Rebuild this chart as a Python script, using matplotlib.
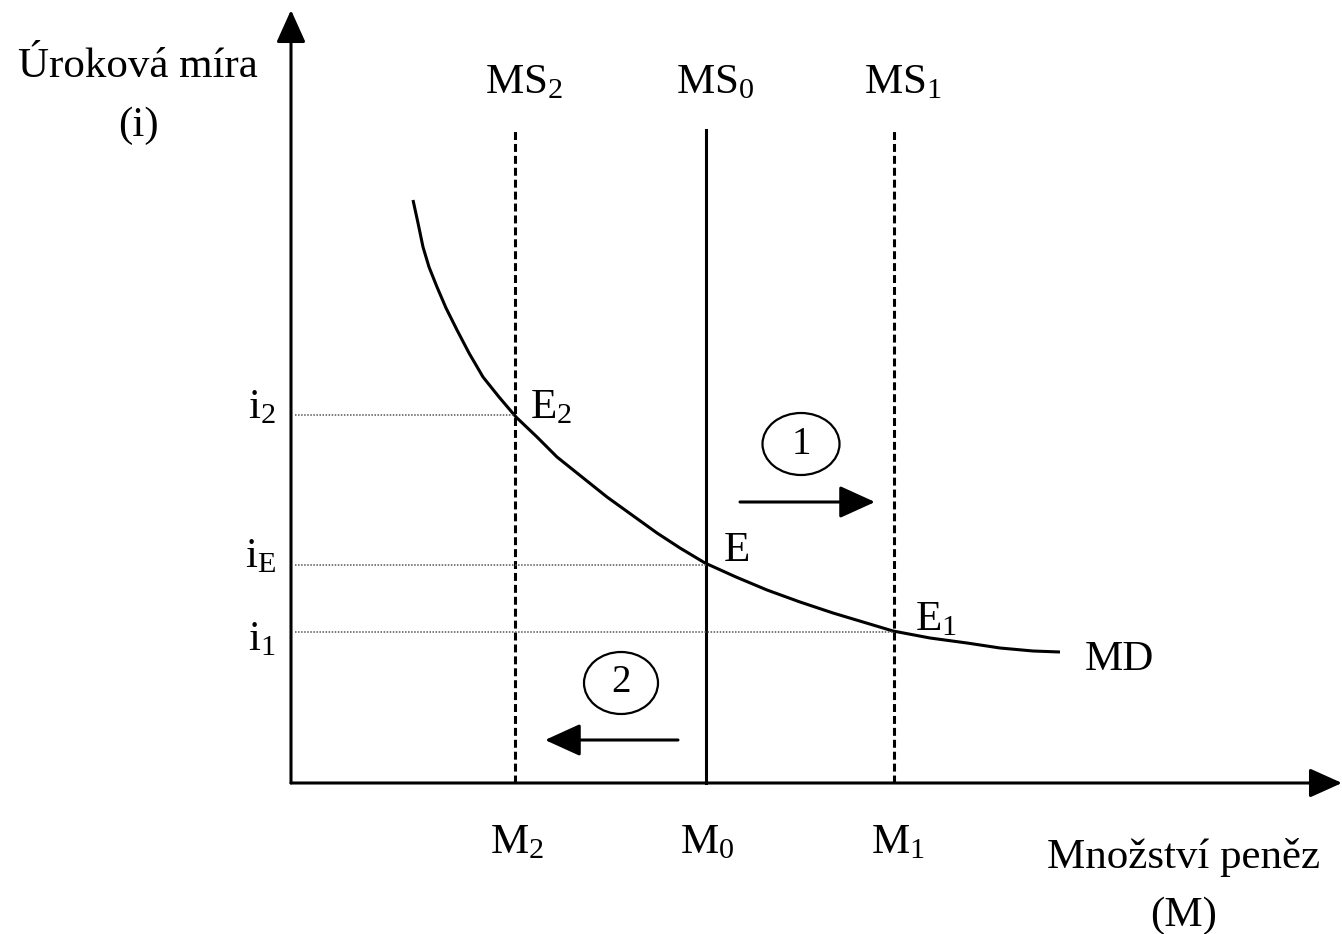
import numpy as np
import matplotlib.pyplot as plt
from matplotlib.patches import Ellipse

plt.rcParams['font.family'] = ['Liberation Serif', 'DejaVu Serif']
plt.rcParams['mathtext.fontset'] = 'custom'
plt.rcParams['mathtext.rm'] = 'Liberation Serif'
plt.rcParams['mathtext.default'] = 'regular'

''' Data (origin of the diagram = 0,0) '''
ms_labels = ['MS$_2$', 'MS$_0$', 'MS$_1$']
m_labels = ['M$_2$', 'M$_0$', 'M$_1$']
ms_x = [224, 415, 603]
ms_styles = ['dashed', 'solid', 'dashed']
i_labels = ['i$_2$', 'i$_E$', 'i$_1$']
i_y = [368, 218, 151]
eq_labels = ['E$_2$', 'E', 'E$_1$']

# money demand curve
md_x = [122, 127, 132, 138, 146, 155, 166, 178, 192, 208, 225, 246, 266, 291, 316,
        341, 366, 389, 414, 445, 476, 509, 542, 572, 602, 639, 676, 709, 742, 769]
md_y = [583, 560, 536, 516, 496, 475, 453, 430, 406, 386, 366, 346, 326, 306, 286,
        268, 250, 235, 220, 206, 193, 181, 170, 161, 152, 145, 140, 135, 132, 131]

fig = plt.figure(figsize=(13.42, 9.34), dpi=100)
ax = fig.add_axes([0, 0, 1, 1])
ax.set_xlim(-291, 1051)
ax.set_ylim(-151, 783)
ax.axis('off')

FS = 31
LW = 2.2

''' Axes with arrows '''
ax.annotate('', xy=(0, 773), xytext=(0, 0),
            arrowprops=dict(arrowstyle='-|>,head_length=1.0,head_width=0.45', lw=LW, color='black',
                            mutation_scale=20, shrinkA=0, shrinkB=0))
ax.annotate('', xy=(1051, 0), xytext=(0, 0),
            arrowprops=dict(arrowstyle='-|>,head_length=1.0,head_width=0.45', lw=LW, color='black',
                            mutation_scale=20, shrinkA=0, shrinkB=0))

''' Money supply lines '''
for x, lab, st in zip(ms_x, ms_labels, ms_styles):
    ls = (0, (2.6, 1.3)) if st == 'dashed' else '-'
    ax.plot([x, x], [0, 653], color='black', lw=LW, linestyle=ls)
    ax.text(x + 9, 690, lab, fontsize=FS, ha='center', va='baseline')
m_off = [2, 1, 4]
for x, lab, o in zip(ms_x, m_labels, m_off):
    ax.text(x + o, -70, lab, fontsize=FS, ha='center', va='baseline')

''' Money demand curve '''
ax.plot(md_x, md_y, color='black', lw=LW, solid_capstyle='butt', solid_joinstyle='round')
ax.text(794, 113, 'MD', fontsize=FS, ha='left', va='baseline')

''' Dotted interest rate guides '''
for x, y in zip(ms_x, i_y):
    ax.plot([4, x], [y, y], color='#555555', lw=1.1, linestyle=(0, (1, 1)))
ax.text(-15, 365, i_labels[0], fontsize=FS, ha='right', va='baseline')
ax.text(-15, 216, i_labels[1], fontsize=FS, ha='right', va='baseline')
ax.text(-15, 133, i_labels[2], fontsize=FS, ha='right', va='baseline')

ax.text(239, 365, eq_labels[0], fontsize=FS, ha='left', va='baseline')
ax.text(433, 222, eq_labels[1], fontsize=FS, ha='left', va='baseline')
ax.text(624, 153, eq_labels[2], fontsize=FS, ha='left', va='baseline')

''' Axis titles '''
ax.text(-153, 706, 'Úroková míra', fontsize=FS, ha='center', va='baseline')
ax.text(-153, 647, '(i)', fontsize=FS, ha='center', va='baseline')
ax.text(893, -85, 'Množství peněz', fontsize=FS, ha='center', va='baseline')
ax.text(893, -143, '(M)', fontsize=FS, ha='center', va='baseline')

''' Shift arrows with circled numbers '''
ax.add_patch(Ellipse((510, 339), 77, 62, fill=False, lw=1.6, color='black'))
ax.text(510, 339, '1', fontsize=28, ha='center', va='center')
ax.annotate('', xy=(584, 281), xytext=(449, 281),
            arrowprops=dict(arrowstyle='-|>,head_length=1.1,head_width=0.5', lw=LW, color='black',
                            mutation_scale=20, shrinkA=0, shrinkB=0))

ax.add_patch(Ellipse((330, 100), 74, 62, fill=False, lw=1.6, color='black'))
ax.text(330, 100, '2', fontsize=28, ha='center', va='center')
ax.annotate('', xy=(254, 43), xytext=(387, 43),
            arrowprops=dict(arrowstyle='-|>,head_length=1.1,head_width=0.5', lw=LW, color='black',
                            mutation_scale=20, shrinkA=0, shrinkB=0))

plt.savefig('out.png', dpi=100)
